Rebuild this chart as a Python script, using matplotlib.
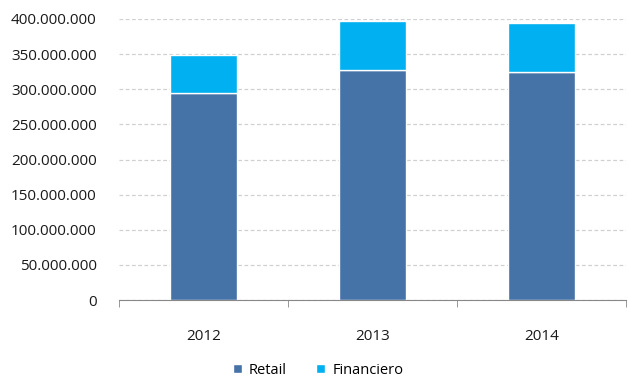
import matplotlib
matplotlib.use("Agg")
import matplotlib.pyplot as plt
from matplotlib.ticker import FuncFormatter, FixedLocator
import numpy as np

years = ["2012", "2013", "2014"]
retail = [295_000_000, 327_000_000, 324_000_000]
financiero = [54_000_000, 70_000_000, 71_000_000]
yticks = [0, 50_000_000, 100_000_000, 150_000_000, 200_000_000,
          250_000_000, 300_000_000, 350_000_000, 400_000_000]

plt.rcParams['font.family'] = ['Open Sans', 'DejaVu Sans']

fig = plt.figure(figsize=(6.29, 3.78), dpi=100)
ax = fig.add_axes([119/629, 1 - 300/378, 507/629, 281/378])

x = np.arange(len(years))
w = 0.4
ax.bar(x, retail, width=w, color="#4572A7", edgecolor="white", linewidth=1.0,
       label="Retail", zorder=3)
ax.bar(x, financiero, width=w, bottom=retail, color="#00B0F0", edgecolor="white",
       linewidth=1.0, label="Financiero", zorder=3)

ax.set_xlim(-0.5, 2.5)
ax.set_ylim(0, 400_000_000)
ax.set_yticks(yticks)
ax.yaxis.set_major_formatter(FuncFormatter(lambda v, p: f"{int(v):,}".replace(",", ".")))
ax.grid(axis="y", color="#d0d0d0", linestyle=(0, (3, 2)), linewidth=0.9, zorder=0)
ax.tick_params(axis="y", length=0, pad=16, labelsize=11, colors="#1a1a1a")

ax.set_xticks(x)
ax.set_xticklabels(years)
ax.xaxis.set_minor_locator(FixedLocator([-0.5, 0.5, 1.5, 2.5]))
ax.tick_params(axis="x", which="major", length=0, pad=21, labelsize=11, colors="#1a1a1a")
ax.tick_params(axis="x", which="minor", length=5, color="#888888", direction="out")

for s in ["top", "right", "left"]:
    ax.spines[s].set_visible(False)
ax.spines["bottom"].set_color("#888888")
ax.spines["bottom"].set_zorder(4)

handles, labels = ax.get_legend_handles_labels()
fig.legend(handles, labels, loc="center", bbox_to_anchor=(318/629, 1 - 370/378),
           ncol=2, frameon=False, fontsize=10.5, handlelength=0.6, handleheight=0.6,
           handletextpad=0.5, columnspacing=2.0)

fig.savefig("out.png", dpi=100)
